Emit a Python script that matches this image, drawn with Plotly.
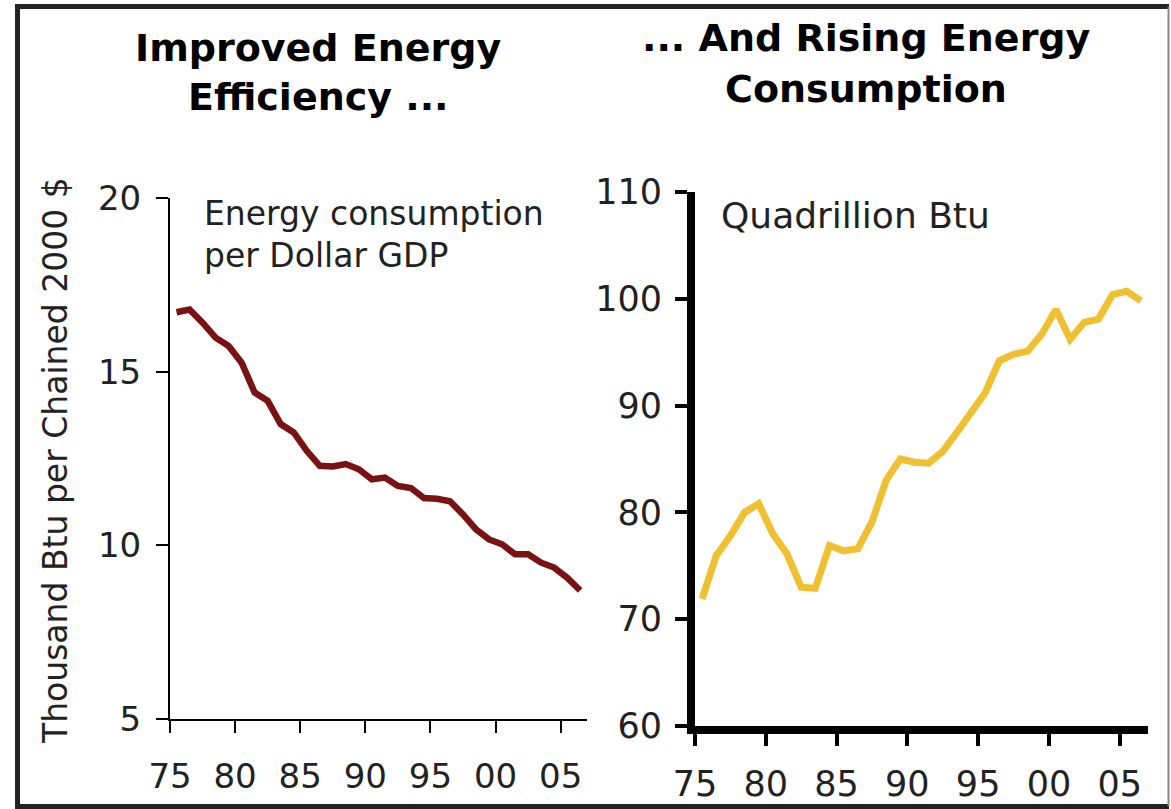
import plotly.graph_objects as go

# energy intensity and total consumption, 1975-2006
years = list(range(1975, 2007))
intensity = [16.71, 16.79, 16.41, 15.98, 15.74, 15.26, 14.40, 14.16, 13.49, 13.25,
             12.72, 12.29, 12.27, 12.34, 12.19, 11.90, 11.95, 11.71, 11.65, 11.36,
             11.34, 11.27, 10.89, 10.46, 10.17, 10.03, 9.74, 9.74, 9.50, 9.36,
             9.07, 8.70]
consumption = [71.9, 75.95, 77.8, 80.0, 80.8, 78.0, 76.1, 73.0, 72.9, 76.9,
               76.4, 76.6, 79.1, 83.0, 85.0, 84.7, 84.6, 85.7, 87.5, 89.4,
               91.2, 94.2, 94.8, 95.1, 96.7, 99.0, 96.2, 97.8, 98.1, 100.4,
               100.7, 99.8]
tick_years = [1975, 1980, 1985, 1990, 1995, 2000, 2005]
tick_text = ["75", "80", "85", "90", "95", "00", "05"]

W, H = 1171, 809
FONT = "DejaVu Sans"


def px(x):
    return x / W


def py(y):
    return 1 - y / H


# ticks sit on category boundaries, points in the middle of each year
xrange_ = [years[0] - 0.5, years[-1] + 0.5]
tickvals = [t - 0.5 for t in tick_years]

fig = go.Figure()
fig.add_trace(go.Scatter(x=years, y=intensity, mode="lines",
                         line=dict(color="#7a1214", width=6.5),
                         xaxis="x", yaxis="y", showlegend=False))
fig.add_trace(go.Scatter(x=years, y=consumption, mode="lines",
                         line=dict(color="#f0c030", width=7),
                         xaxis="x2", yaxis="y2", showlegend=False))

common = dict(showgrid=False, zeroline=False, showline=True, linecolor="black",
              ticks="outside", tickcolor="black", automargin=False)
left_ticks = dict(family=FONT, size=34, color="#222")
right_ticks = dict(family=FONT, size=35, color="#222")

fig.update_layout(
    width=W, height=H,
    margin=dict(l=0, r=0, t=0, b=0, autoexpand=False),
    paper_bgcolor="white", plot_bgcolor="white",
    xaxis=dict(domain=[px(170), px(586.7)], anchor="y", range=xrange_,
               tickvals=tickvals, ticktext=tick_text, linewidth=2,
               tickwidth=2, ticklen=12, ticklabelstandoff=14,
               tickfont=left_ticks, **common),
    yaxis=dict(domain=[py(719), py(198)], anchor="x", range=[5, 20],
               tickvals=[5, 10, 15, 20], linewidth=2, tickwidth=2,
               ticklen=12, ticklabelstandoff=8, tickfont=left_ticks, **common),
    xaxis2=dict(domain=[px(695), px(1148)], anchor="y2", range=xrange_,
                tickvals=tickvals, ticktext=tick_text, linewidth=8,
                tickwidth=4, ticklen=12, ticklabelstandoff=8,
                tickfont=right_ticks, **common),
    yaxis2=dict(domain=[py(726), py(192)], anchor="x2", range=[60, 110],
                tickvals=[60, 70, 80, 90, 100, 110], linewidth=8, tickwidth=4,
                ticklen=12, ticklabelstandoff=6, tickfont=right_ticks, **common),
)

title_font = dict(family=FONT, size=38, color="black")
text_font = dict(family=FONT, size=33, color="#222")
notes = [
    ("<b>Improved Energy</b>", 318, 48, "center", title_font),
    ("<b>Efficiency ...</b>", 318, 97, "center", title_font),
    ("<b>... And Rising Energy</b>", 866, 38, "center", title_font),
    ("<b>Consumption</b>", 866, 89, "center", title_font),
    ("Energy consumption", 202, 213, "left", text_font),
    ("per Dollar GDP", 202, 256, "left", text_font),
    ("Quadrillion Btu", 719, 216, "left", dict(text_font, size=36)),
]
for text, x, y, anchor, font in notes:
    fig.add_annotation(text=text, x=px(x), y=py(y), xref="paper", yref="paper",
                       xanchor=anchor, yanchor="middle", showarrow=False,
                       font=font)

fig.add_annotation(text="Thousand Btu per Chained 2000 $", textangle=-90,
                   x=px(55), y=py(461), xref="paper", yref="paper",
                   xanchor="center", yanchor="middle", showarrow=False,
                   font=dict(family=FONT, size=33, color="#222"))

# frame around the whole chart
frame = [
    (17.5, 6.5, 17.5, 806.5, 5, "#222"),
    (15, 6.5, 1169, 6.5, 5, "#222"),
    (15, 806.5, 1169, 806.5, 5, "#222"),
    (1168.5, 6.5, 1168.5, 806.5, 2, "#888"),
]
for x0, y0, x1, y1, w, c in frame:
    fig.add_shape(type="line", xref="paper", yref="paper",
                  x0=px(x0), y0=py(y0), x1=px(x1), y1=py(y1),
                  line=dict(color=c, width=w))

fig.write_html("out.html", config={"displayModeBar": False},
               post_script="document.body.style.margin='0';")
